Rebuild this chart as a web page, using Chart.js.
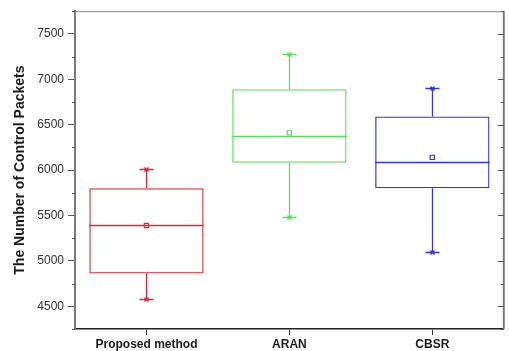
<!DOCTYPE html>
<html>
<head>
<meta charset="utf-8">
<script src="https://cdn.jsdelivr.net/npm/chart.js@4.4.1/dist/chart.umd.min.js"></script>
<style>
  html, body { margin: 0; padding: 0; background: #fff; }
  #wrap { width: 509px; height: 351px; }
</style>
</head>
<body>
<div id="wrap"><canvas id="myChart"></canvas></div>
<script>
// box plot values
var methods = ["Proposed method", "ARAN", "CBSR"];
var whiskerLow = [4580, 5480, 5100];
var boxLow = [4860, 6080, 5800];
var medians = [5400, 6380, 6090];
var boxHigh = [5800, 6890, 6590];
var whiskerHigh = [6010, 7280, 6900];
var means = [5390, 6410, 6140];
var yTicks = [4500, 5000, 5500, 6000, 6500, 7000, 7500];

var boxColors = ["#d82a3a", "#5ade5a", "#3636c8"];

var boxes = methods.map(function (m, i) { return [boxLow[i], boxHigh[i]]; });

// whiskers, caps, medians, minor ticks and right frame
var boxExtras = {
  id: 'boxExtras',
  afterDatasetsDraw: function (chart) {
    var ctx = chart.ctx;
    var y = chart.scales.y;
    var area = chart.chartArea;
    var bars = chart.getDatasetMeta(0).data;
    ctx.save();
    ctx.lineWidth = 1.3;
    bars.forEach(function (bar, i) {
      var x = Math.round(bar.x) + 0.5;
      var half = bar.width / 2;
      ctx.strokeStyle = boxColors[i];
      ctx.beginPath();
      // median
      ctx.moveTo(bar.x - half, Math.round(y.getPixelForValue(medians[i])) + 0.5);
      ctx.lineTo(bar.x + half, Math.round(y.getPixelForValue(medians[i])) + 0.5);
      // whiskers
      ctx.moveTo(x, y.getPixelForValue(whiskerLow[i]));
      ctx.lineTo(x, y.getPixelForValue(boxLow[i]));
      ctx.moveTo(x, y.getPixelForValue(boxHigh[i]));
      ctx.lineTo(x, y.getPixelForValue(whiskerHigh[i]));
      ctx.stroke();
      [whiskerLow[i], whiskerHigh[i]].forEach(function (v) {
        var py = Math.round(y.getPixelForValue(v)) + 0.5;
        ctx.beginPath();
        ctx.moveTo(x - 7, py);
        ctx.lineTo(x + 7, py);
        ctx.moveTo(x - 2, py - 2);
        ctx.lineTo(x + 2, py + 2);
        ctx.moveTo(x - 2, py + 2);
        ctx.lineTo(x + 2, py - 2);
        ctx.stroke();
      });
    });

    // top frame
    ctx.strokeStyle = '#8a8a8a';
    ctx.lineWidth = 1;
    ctx.beginPath();
    ctx.moveTo(area.left, area.top + 0.5);
    ctx.lineTo(area.right, area.top + 0.5);
    ctx.stroke();
    // right frame
    ctx.strokeStyle = '#7a7a7a';
    ctx.lineWidth = 2;
    ctx.beginPath();
    ctx.moveTo(area.right, area.top);
    ctx.lineTo(area.right, area.bottom);
    ctx.stroke();
    // ticks: minor on left, major+minor inward on right
    ctx.lineWidth = 1;
    ctx.strokeStyle = '#555';
    for (var v = 4250; v <= 7750; v += 250) {
      var py = Math.round(y.getPixelForValue(v)) + 0.5;
      var major = yTicks.indexOf(v) >= 0;
      ctx.beginPath();
      if (!major) {
        ctx.moveTo(area.left - 3, py);
        ctx.lineTo(area.left, py);
      }
      ctx.moveTo(area.right, py);
      ctx.lineTo(area.right - (major ? 6 : 3), py);
      ctx.stroke();
    }
    ctx.restore();
  }
};

new Chart("myChart", {
  data: {
    labels: methods,
    datasets: [{
      type: 'bar',
      data: boxes,
      backgroundColor: 'rgba(0,0,0,0)',
      borderColor: boxColors,
      borderWidth: 1.3,
      borderSkipped: false,
      grouped: false,
      barPercentage: 0.8,
      categoryPercentage: 1
    }, {
      type: 'line',
      data: means,
      showLine: false,
      pointStyle: 'rect',
      pointRadius: 3,
      pointBorderWidth: 1.2,
      pointBackgroundColor: '#fff',
      pointBorderColor: boxColors
    }]
  },
  options: {
    responsive: true,
    maintainAspectRatio: false,
    animation: false,
    layout: { padding: { top: 11, right: 3, left: 0, bottom: 0 } },
    plugins: {
      legend: { display: false },
      tooltip: { enabled: false }
    },
    scales: {
      x: {
        type: 'category',
        offset: true,
        grid: { display: true, drawOnChartArea: false, tickLength: 6, color: '#333', offset: false },
        border: { color: '#222', width: 1.5 },
        ticks: {
          color: '#1a1a1a',
          padding: 2,
          maxRotation: 0,
          font: { family: 'Liberation Sans, Arial', size: 12, weight: 'bold' }
        },
        afterFit: function (scale) { scale.height = 22; }
      },
      y: {
        min: 4250,
        max: 7750,
        afterBuildTicks: function (scale) {
          scale.ticks = yTicks.map(function (v) { return { value: v }; });
        },
        grid: { drawOnChartArea: false, tickLength: 7, color: '#555' },
        border: { color: '#7a7a7a', width: 2 },
        ticks: {
          color: '#333',
          padding: 4,
          font: { family: 'Liberation Sans, Arial', size: 12 },
          callback: function (v) { return String(v); }
        },
        title: {
          display: true,
          text: 'The Number of Control Packets',
          color: '#1a1a1a',
          padding: { top: 12, bottom: 0 },
          font: { family: 'Liberation Sans, Arial', size: 14, weight: 'bold' }
        },
        afterFit: function (scale) { scale.width = 75; }
      }
    }
  },
  plugins: [boxExtras]
});
</script>
</body>
</html>
